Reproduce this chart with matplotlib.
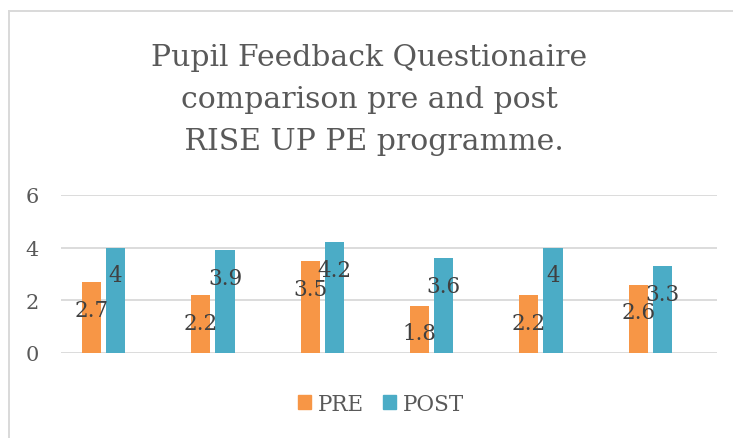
import numpy as np
import matplotlib
matplotlib.use("Agg")
import matplotlib.pyplot as plt
from matplotlib.patches import Patch
from matplotlib.lines import Line2D

# Data
categories = ["1", "2", "3", "4", "5", "6"]
pre_values = [2.7, 2.2, 3.5, 1.8, 2.2, 2.6]
post_values = [4, 3.9, 4.2, 3.6, 4, 3.3]
series_names = ["PRE", "POST"]
y_ticks = [0, 2, 4, 6]
title_lines = ["Pupil Feedback Questionaire",
               "comparison pre and post",
               " RISE UP PE programme."]

pre_color = "#F79646"
post_color = "#4BACC6"
grid_color = "#D9D9D9"

plt.rcParams['font.family'] = ['DejaVu Serif']

fig = plt.figure(figsize=(7.33, 4.39), dpi=100)
W, H = 733, 439

# chart border (left and top only visible)
fig.add_artist(Line2D([8.5 / W, 8.5 / W], [0, 1 - 11.5 / H], transform=fig.transFigure,
                      color=grid_color, lw=1.4))
fig.add_artist(Line2D([8.5 / W, 1.01], [1 - 11.5 / H, 1 - 11.5 / H], transform=fig.transFigure,
                      color=grid_color, lw=1.4))

# Title
fig.text(369 / W, 1 - 100 / H, "\n".join(title_lines), ha='center', va='center',
         fontsize=21.5, color="#595959", linespacing=1.62, multialignment='center')

ax = fig.add_axes([61 / W, 1 - 354 / H, (717 - 61) / W, (354 - 196) / H])

x = np.arange(len(categories))
width = 0.174
step = 0.22

bars_pre = ax.bar(x - step, pre_values, width, color=pre_color, zorder=3)
bars_post = ax.bar(x, post_values, width, color=post_color, zorder=3)

# data labels
for bars, vals in [(bars_pre, pre_values), (bars_post, post_values)]:
    for b, v in zip(bars, vals):
        ax.annotate(f"{v:g}", (b.get_x() + b.get_width() / 2, v),
                    xytext=(0, -20), textcoords='offset points',
                    ha='center', va='center', fontsize=15.5, color="#404040", zorder=4)

ax.set_xlim(-0.5, len(categories) - 0.5)
ax.set_ylim(0, 6)
ax.set_yticks(y_ticks)
ax.set_xticks([])
ax.tick_params(axis='y', length=0, pad=16, labelsize=15, labelcolor="#595959")
ax.yaxis.grid(True, color=grid_color, lw=1.3, zorder=0)
ax.set_axisbelow(True)
for s in ax.spines.values():
    s.set_visible(False)

handles = [Patch(color=pre_color), Patch(color=post_color)]
fig.legend(handles, series_names, loc='center', bbox_to_anchor=(381 / W, 1 - 405 / H),
           ncol=2, frameon=False, fontsize=15.5, labelcolor="#595959",
           handlelength=0.62, handleheight=0.62, handletextpad=0.3, columnspacing=0.9)

fig.savefig("out.png", dpi=100)
